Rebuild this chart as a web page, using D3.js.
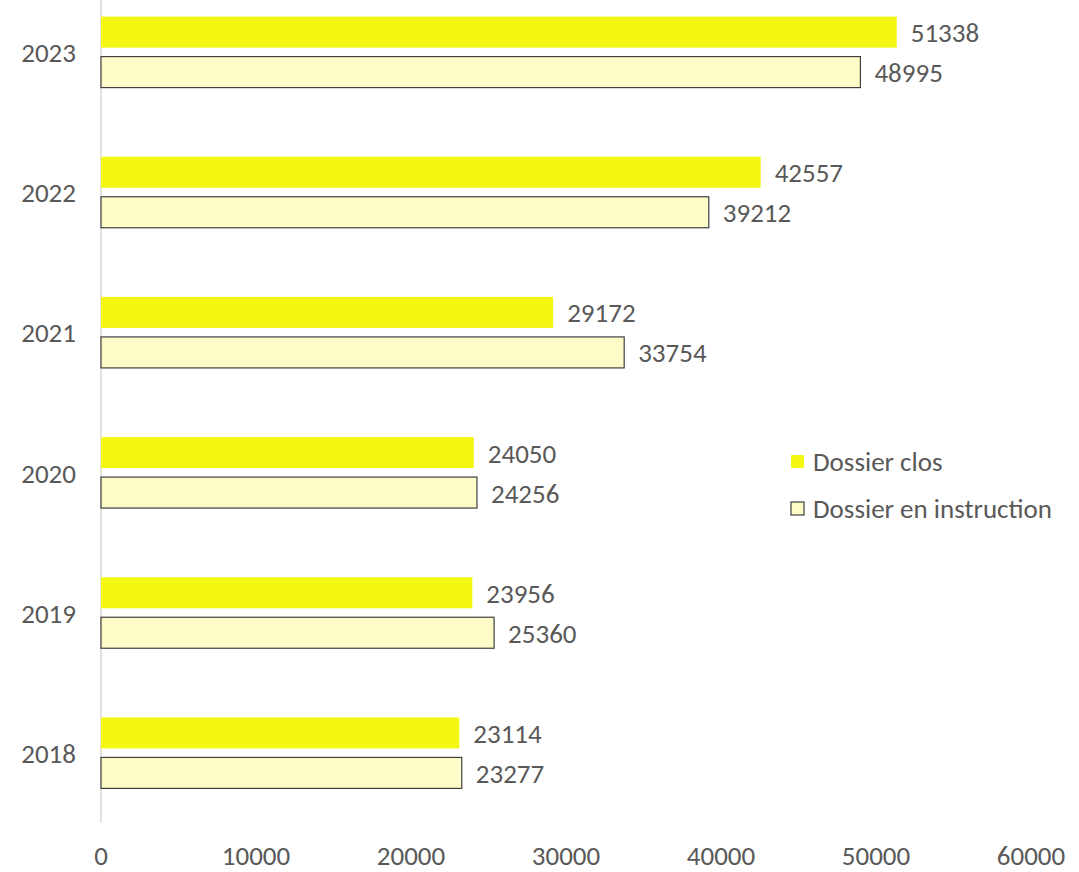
<!DOCTYPE html>
<html>
<head>
<meta charset="utf-8">
<script src="https://d3js.org/d3.v7.min.js"></script>
<style>
  body { margin: 0; background: #fff; }
  text { font-family: Carlito, "Open Sans", "Liberation Sans", sans-serif; fill: #595959; }
</style>
</head>
<body>
<div id="chart"></div>
<script>
// data
var years = ['2023', '2022', '2021', '2020', '2019', '2018'];
var closedVals = [51338, 42557, 29172, 24050, 23956, 23114];
var openVals = [48995, 39212, 33754, 24256, 25360, 23277];
var seriesNames = ['Dossier clos', 'Dossier en instruction'];
var xTicks = [0, 10000, 20000, 30000, 40000, 50000, 60000];

var width = 1079, height = 872;
var svg = d3.select('#chart').append('svg')
    .attr('width', width)
    .attr('height', height);

var x = d3.scaleLinear().domain([0, 60000]).range([101, 1031]);
var y = d3.scaleBand().domain(years).range([-18, 823]);

var barH = 31, gap = 9;
var yellow = '#f3f712', pale = '#fdfcc8';
var fs = '27px';

// vertical axis line
svg.append('line')
    .attr('x1', x(0)).attr('x2', x(0))
    .attr('y1', 0).attr('y2', 823)
    .attr('stroke', '#d9d9d9').attr('stroke-width', 1.5);

var groups = svg.selectAll('g.year')
    .data(years)
    .enter().append('g')
    .attr('class', 'year');

function closedY(d) { return y(d) + y.bandwidth() / 2 - gap / 2 - barH; }
function openY(d) { return y(d) + y.bandwidth() / 2 + gap / 2; }

// closed bars
groups.append('rect')
    .attr('x', x(0))
    .attr('y', closedY)
    .attr('width', function (d, i) { return x(closedVals[i]) - x(0); })
    .attr('height', barH)
    .attr('fill', yellow);

// open bars
groups.append('rect')
    .attr('x', x(0))
    .attr('y', openY)
    .attr('width', function (d, i) { return x(openVals[i]) - x(0); })
    .attr('height', barH)
    .attr('fill', pale)
    .attr('stroke', '#404040')
    .attr('stroke-width', 1.2);

groups.append('text')
    .attr('x', function (d, i) { return x(closedVals[i]) + 14; })
    .attr('y', function (d) { return closedY(d) + barH / 2 + 10; })
    .style('font-size', fs)
    .text(function (d, i) { return closedVals[i]; });

groups.append('text')
    .attr('x', function (d, i) { return x(openVals[i]) + 14; })
    .attr('y', function (d) { return openY(d) + barH / 2 + 10; })
    .style('font-size', fs)
    .text(function (d, i) { return openVals[i]; });

// year labels
groups.append('text')
    .attr('x', 76)
    .attr('y', function (d) { return y(d) + y.bandwidth() / 2 + 10; })
    .attr('text-anchor', 'end')
    .style('font-size', fs)
    .text(function (d) { return d; });

// x tick labels
svg.selectAll('text.tick')
    .data(xTicks)
    .enter().append('text')
    .attr('class', 'tick')
    .attr('x', function (d) { return x(d); })
    .attr('y', 865)
    .attr('text-anchor', 'middle')
    .style('font-size', fs)
    .text(function (d) { return d; });

// legend
var legend = svg.selectAll('g.legend')
    .data(seriesNames)
    .enter().append('g')
    .attr('class', 'legend')
    .attr('transform', function (d, i) { return 'translate(791,' + (455 + i * 47) + ')'; });

legend.append('rect')
    .attr('width', 13).attr('height', 13)
    .attr('fill', function (d, i) { return i == 0 ? yellow : pale; })
    .attr('stroke', function (d, i) { return i == 0 ? 'none' : '#404040'; })
    .attr('stroke-width', 1.2);

legend.append('text')
    .attr('x', 22)
    .attr('y', 16)
    .style('font-size', fs)
    .text(function (d) { return d; });
</script>
</body>
</html>
